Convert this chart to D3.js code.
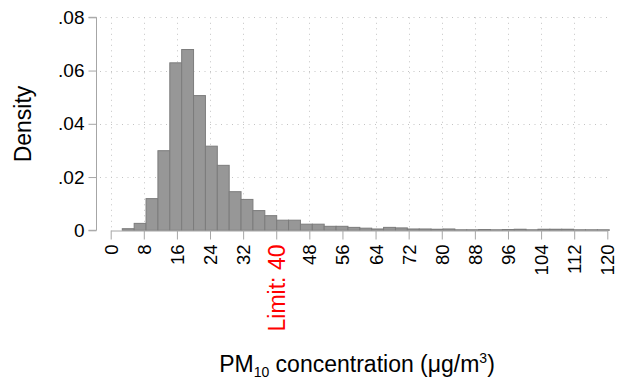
<!DOCTYPE html>
<html>
<head>
<meta charset="utf-8">
<script src="https://cdn.jsdelivr.net/npm/d3@7"></script>
<style>
  body { margin: 0; background: #fff; }
  svg { display: block; }
</style>
</head>
<body>
<div id="chart"></div>
<script>
// histogram of PM10 concentration, density scale
var binStart = 2.8,
    binWidth = 2.87;

var density = [
  0.0006, 0.0026, 0.0119, 0.0299, 0.0629, 0.0679, 0.0506, 0.0316,
  0.0244, 0.0145, 0.0116, 0.0074, 0.0055, 0.0038, 0.0038, 0.0023,
  0.0023, 0.0015, 0.0015, 0.0011, 0.0008, 0.0005, 0.0011, 0.0009,
  0.0005, 0.0005, 0.0004, 0.0005, 0.0002, 0.0002, 0.0003, 0.0002,
  0.0003, 0.0004, 0.0002, 0.0004, 0.0004, 0.0004, 0.0002, 0.0002,
  0.0002
];

var xTicks = [0, 8, 16, 24, 32, 40, 48, 56, 64, 72, 80, 88, 96, 104, 112, 120];
var yTicks = [0, 0.02, 0.04, 0.06, 0.08];
var limitValue = 40;

var width = 618,
    height = 383;

var barFill = '#979797',
    barStroke = '#7c7c7c',
    axisColor = '#a6a6a6',
    gridColor = '#c4c4c4',
    textColor = '#000',
    limitColor = '#ff0000';

var fontFamily = '"Liberation Sans", Arial, sans-serif';

var svg = d3.select('#chart')
  .append('svg')
  .attr('width', width)
  .attr('height', height);

var x = d3.scaleLinear().domain([0, 120]).range([110.7, 607.3]);
var y = d3.scaleLinear().domain([0, 0.08]).range([230.3, 17.3]);

// grid
var grid = svg.append('g')
  .attr('stroke', gridColor)
  .attr('stroke-width', 1)
  .attr('stroke-dasharray', '1,4.5');

grid.selectAll('line.h')
  .data(yTicks.filter(function(d) { return d > 0; }))
  .enter().append('line')
  .attr('class', 'h')
  .attr('x1', 100)
  .attr('x2', x(120))
  .attr('y1', function(d) { return Math.round(y(d)) + 0.5; })
  .attr('y2', function(d) { return Math.round(y(d)) + 0.5; });

grid.selectAll('line.v')
  .data(xTicks.filter(function(d) { return d < 120; }))
  .enter().append('line')
  .attr('class', 'v')
  .attr('x1', function(d) { return Math.round(x(d)) + 0.5; })
  .attr('x2', function(d) { return Math.round(x(d)) + 0.5; })
  .attr('y1', y(0.08))
  .attr('y2', y(0));

// bars
svg.append('g')
  .selectAll('rect')
  .data(density)
  .enter().append('rect')
  .attr('x', function(d, i) { return x(binStart + i * binWidth); })
  .attr('y', function(d) { return y(d); })
  .attr('width', x(binWidth) - x(0))
  .attr('height', function(d) { return y(0) - y(d); })
  .attr('fill', barFill)
  .attr('stroke', barStroke)
  .attr('stroke-width', 1);

// y axis
var yAxis = svg.append('g')
  .attr('transform', 'translate(96.5,0)')
  .call(d3.axisLeft(y)
    .tickValues(yTicks)
    .tickSize(8)
    .tickPadding(4)
    .tickFormat(function(d) { return d === 0 ? '0' : d3.format('.2f')(d).replace(/^0/, ''); }));

yAxis.selectAll('path, line').attr('stroke', axisColor);
yAxis.select('.domain').attr('d', 'M-8,' + y(0.08) + 'H0V' + y(0) + 'H-8');
yAxis.selectAll('text')
  .attr('font-family', fontFamily)
  .attr('font-size', '19px')
  .attr('fill', textColor);

// x axis
var xAxis = svg.append('g')
  .attr('transform', 'translate(0,230.5)')
  .call(d3.axisBottom(x)
    .tickValues(xTicks)
    .tickSize(9)
    .tickSizeOuter(0)
    .tickFormat(function(d) { return d === limitValue ? 'Limit: ' + d : d; }));

xAxis.selectAll('path, line').attr('stroke', axisColor);
xAxis.selectAll('text')
  .attr('font-family', fontFamily)
  .attr('font-size', function(d) { return d === limitValue ? '23px' : '18.5px'; })
  .attr('fill', function(d) { return d === limitValue ? limitColor : textColor; })
  .attr('text-anchor', 'end')
  .attr('dy', '0.35em')
  .attr('transform', 'translate(0,4) rotate(-90)')
  .attr('x', -10)
  .attr('y', 0);

// axis titles
svg.append('text')
  .attr('transform', 'translate(31,124) rotate(-90)')
  .attr('text-anchor', 'middle')
  .attr('font-family', fontFamily)
  .attr('font-size', '23px')
  .attr('fill', textColor)
  .text('Density');

var xTitle = svg.append('text')
  .attr('x', 357)
  .attr('y', 372)
  .attr('text-anchor', 'middle')
  .attr('font-family', fontFamily)
  .attr('font-size', '23px')
  .attr('fill', textColor);

xTitle.append('tspan').text('PM');
xTitle.append('tspan').attr('font-size', '14px').attr('dy', 5).text('10');
xTitle.append('tspan').attr('dy', -5).text(' concentration (\u03bcg/m');
xTitle.append('tspan').attr('font-size', '14px').attr('dy', -9).text('3');
xTitle.append('tspan').attr('dy', 9).text(')');
</script>
</body>
</html>
